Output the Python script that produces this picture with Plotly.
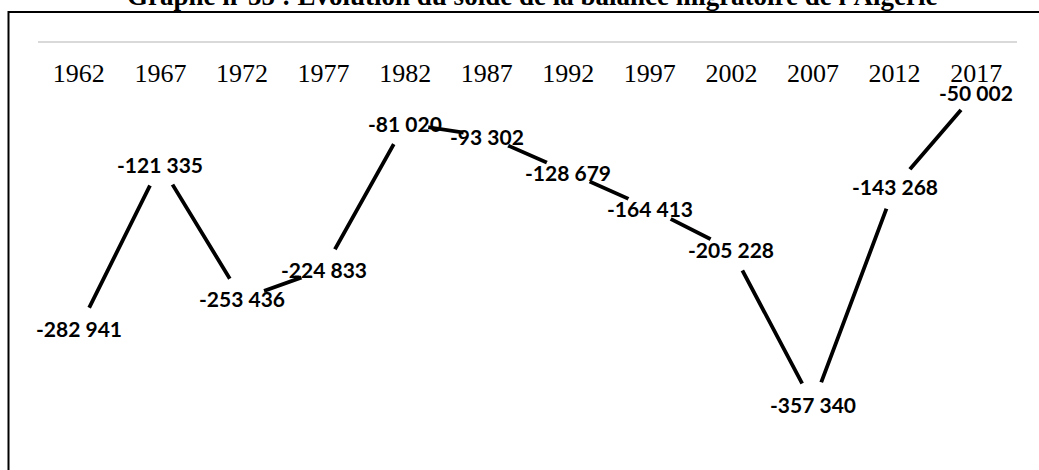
import plotly.graph_objects as go

# Solde migratoire de l'Algérie, par période quinquennale
years = ["1962", "1967", "1972", "1977", "1982", "1987",
         "1992", "1997", "2002", "2007", "2012", "2017"]
solde = [-282941, -121335, -253436, -224833, -81020, -93302,
         -128679, -164413, -205228, -357340, -143268, -50002]

W, H = 1039, 470
M_L, M_R, M_T, M_B = 38, 22, 40, 20
PW, PH = W - M_L - M_R, H - M_T - M_B


def px_x(p):
    """pixel column -> paper x"""
    return (p - M_L) / PW


def px_y(p):
    """pixel row -> paper y"""
    return (H - M_B - p) / PH


def fmt(v):
    return f"{v:,}".replace(",", " ")


fig = go.Figure()
# courbe noire ; de gros marqueurs blancs l'interrompent autour de chaque point
fig.add_trace(go.Scatter(
    x=years, y=solde, mode="lines+markers",
    line=dict(color="black", width=3.8),
    marker=dict(size=47, color="white", line=dict(width=0)),
    hoverinfo="skip", showlegend=False,
))

# étiquettes de valeurs centrées sur les points
for i, v in enumerate(solde):
    fig.add_annotation(
        x=i, y=v, xref="x", yref="y", text=f"<b>{fmt(v)}</b>",
        showarrow=False, borderpad=0,
        font=dict(family="Lato", size=21, color="black"),
        xanchor="center", yanchor="middle",
    )

# titre (partiellement hors cadre)
fig.add_annotation(
    x=px_x(532), y=px_y(13), xref="paper", yref="paper",
    text="<b>Graphe n°55 : Évolution du solde de la balance migratoire de l'Algérie</b>",
    showarrow=False, xanchor="center", yanchor="bottom",
    font=dict(family="Liberation Serif", size=27, color="black"),
)

# cadre du graphique
fig.add_shape(type="rect", xref="paper", yref="paper",
              x0=px_x(8.5), x1=px_x(W + 20), y0=px_y(H + 20), y1=px_y(12),
              line=dict(color="black", width=2), fillcolor="rgba(0,0,0,0)",
              layer="below")

fig.update_layout(
    width=W, height=H,
    margin=dict(l=M_L, r=M_R, t=M_T, b=M_B),
    paper_bgcolor="white", plot_bgcolor="white",
    hovermode=False,
    xaxis=dict(
        type="category", range=[-0.5, 11.5],
        anchor="free", position=px_y(41.5), side="bottom",
        showline=False, showgrid=False, zeroline=False, ticks="",
        ticklabelstandoff=13,
        tickfont=dict(family="Liberation Serif", size=26, color="black"),
    ),
    yaxis=dict(
        range=[-402542, 1478],
        showticklabels=False, showgrid=False, ticks="", showline=False,
        zeroline=True, zerolinecolor="#d9d9d9", zerolinewidth=2,
    ),
)

fig.write_html("out.html")
